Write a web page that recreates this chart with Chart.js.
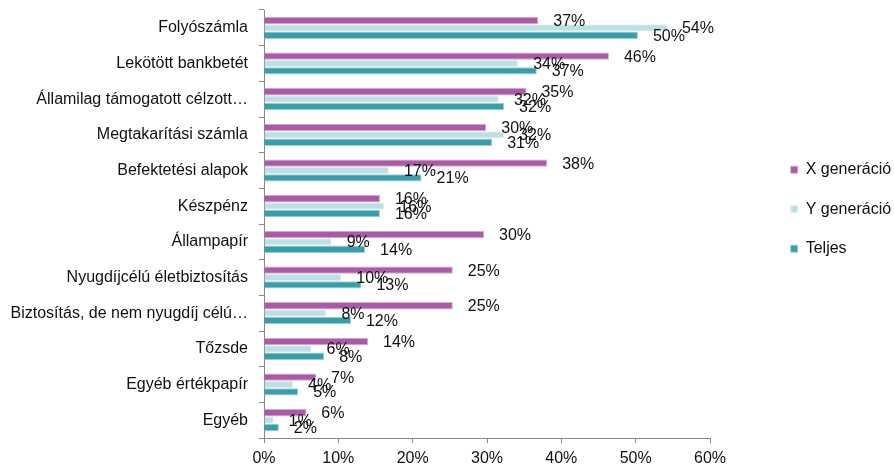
<!DOCTYPE html>
<html>
<head>
<meta charset="utf-8">
<script src="https://cdn.jsdelivr.net/npm/chart.js@4"></script>
<style>
  body { margin: 0; background: #fff; overflow: hidden; }
  /* slightly wider than the window so the legend text is clipped at the edge like the original */
  #wrap { width: 902px; height: 467px; position: relative; }
</style>
</head>
<body>
<div id="wrap"><canvas id="chart"></canvas></div>
<script>
// categories (top to bottom)
const categories = [
  'Folyószámla',
  'Lekötött bankbetét',
  'Államilag támogatott célzott…',
  'Megtakarítási számla',
  'Befektetési alapok',
  'Készpénz',
  'Állampapír',
  'Nyugdíjcélú életbiztosítás',
  'Biztosítás, de nem nyugdíj célú…',
  'Tőzsde',
  'Egyéb értékpapír',
  'Egyéb'
];

// series values in %
const genX = [36.9, 46.4, 35.3, 29.9, 38.1, 15.6, 29.6, 25.4, 25.4, 14.0, 7.0, 5.7];
const genY = [54.2, 34.2, 31.6, 32.3, 16.8, 16.2, 9.1, 10.4, 8.4, 6.4, 3.9, 1.3];
const total = [50.3, 36.7, 32.3, 30.7, 21.2, 15.6, 13.6, 13.1, 11.7, 8.1, 4.6, 2.0];

const seriesNames = ['X generáció', 'Y generáció', 'Teljes'];
const seriesColors = ['#aa5ba5', '#bedfe5', '#3a9da8'];
const edgeColors = ['#d2a6cf', '#e4f2f4', '#9ccfd5'];

// x axis ticks
const xMin = 0, xMax = 60, xStep = 10;

Chart.defaults.font.family = "'Liberation Sans', Arial, sans-serif";
Chart.defaults.font.size = 16;
Chart.defaults.color = '#111';

// value labels right of each bar
const barLabels = {
  id: 'barLabels',
  afterDatasetsDraw(chart) {
    const ctx = chart.ctx;
    ctx.save();
    ctx.font = "16px 'Liberation Sans', Arial, sans-serif";
    ctx.fillStyle = '#111';
    ctx.textAlign = 'left';
    ctx.textBaseline = 'middle';
    chart.data.datasets.forEach((ds, i) => {
      const meta = chart.getDatasetMeta(i);
      meta.data.forEach((bar, j) => {
        ctx.fillText(Math.round(ds.data[j]) + '%', bar.x + 15, bar.y + 1);
      });
    });
    ctx.restore();
  }
};

const allSeries = [genX, genY, total];

new Chart(document.getElementById('chart'), {
  type: 'bar',
  data: {
    labels: categories,
    datasets: allSeries.map((d, i) => ({
      label: seriesNames[i],
      data: d,
      backgroundColor: seriesColors[i],
      borderColor: edgeColors[i],
      borderWidth: 1,
      categoryPercentage: 0.62,
      barPercentage: 1
    }))
  },
  options: {
    indexAxis: 'y',
    responsive: true,
    maintainAspectRatio: false,
    animation: false,
    layout: { padding: 0 },
    plugins: {
      tooltip: { enabled: false },
      // empty title used as a gap between the plot and the legend
      title: {
        display: true,
        text: '',
        position: 'right',
        weight: 500,
        fullSize: false,
        padding: { top: 19, bottom: 19 }
      },
      legend: {
        position: 'right',
        align: 'start',
        title: { display: true, text: '', padding: { top: 119, bottom: 0 } },
        labels: {
          boxWidth: 7,
          boxHeight: 7,
          padding: 23.5,
          color: '#111',
          font: { size: 16 }
        }
      }
    },
    scales: {
      x: {
        min: xMin,
        max: xMax,
        ticks: {
          stepSize: xStep,
          padding: 6,
          color: '#111',
          callback: v => v + '%'
        },
        grid: { drawOnChartArea: false, tickLength: 5, color: '#888' },
        border: { color: '#888' },
        afterFit(scale) {
          scale.height = 29;
          scale.paddingLeft = 0;
          scale.paddingRight = 192;
        }
      },
      y: {
        ticks: { padding: 11, color: '#111' },
        grid: { drawOnChartArea: false, offset: true, tickLength: 5, color: '#888' },
        border: { color: '#888' },
        afterFit(scale) {
          scale.width = 264;
          scale.paddingTop = 10;
          scale.paddingBottom = 0;
        }
      }
    }
  },
  plugins: [barLabels]
});
</script>
</body>
</html>
